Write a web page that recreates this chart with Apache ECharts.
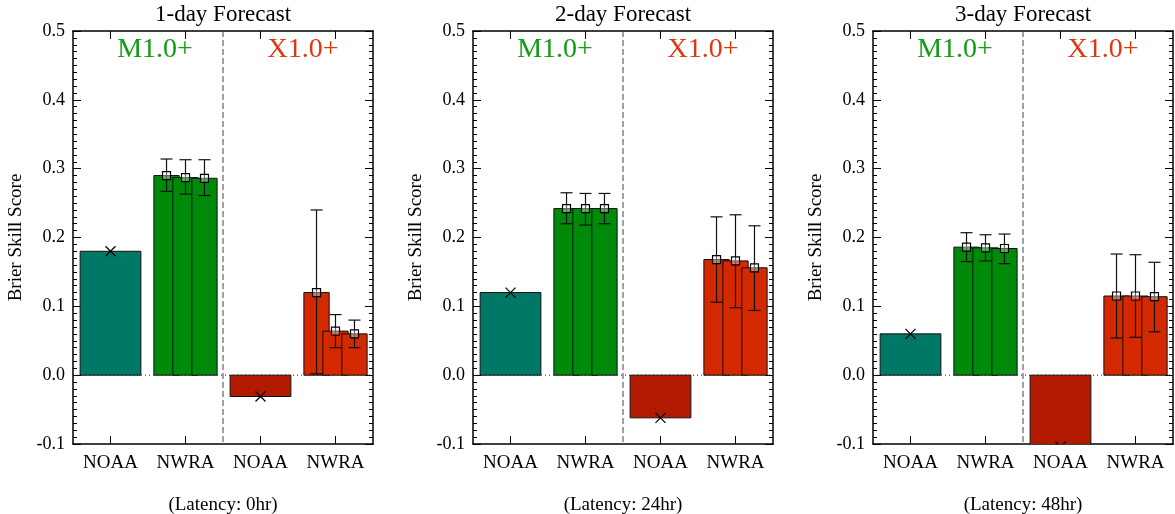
<!DOCTYPE html>
<html>
<head>
<meta charset="utf-8">
<script src="https://cdn.jsdelivr.net/npm/echarts@6/dist/echarts.min.js"></script>
<style>
  html, body { margin: 0; padding: 0; background: #fff; }
  #chart { width: 1175px; height: 514px; }
</style>
</head>
<body>
<div id="chart"></div>
<script>
// categories and labels
const categories = ['NOAA', 'NWRA', 'NOAA', 'NWRA'];
const panelTitles = ['1-day Forecast', '2-day Forecast', '3-day Forecast'];
const latencies = ['(Latency: 0hr)', '(Latency: 24hr)', '(Latency: 48hr)'];
const yTicks = { min: -0.1, max: 0.5, step: 0.1 };

// NOAA values per panel (M1.0+ and X1.0+)
const noaaM = [0.180, 0.120, 0.060];
const noaaX = [-0.031, -0.062, -0.104];

// NWRA values per panel, three runs each
const nwraM = [[0.290, 0.287, 0.286], [0.242, 0.242, 0.242], [0.186, 0.185, 0.184]];
const nwraMLow = [[0.267, 0.263, 0.261], [0.220, 0.218, 0.220], [0.165, 0.166, 0.162]];
const nwraMHigh = [[0.314, 0.313, 0.313], [0.265, 0.264, 0.264], [0.207, 0.204, 0.205]];

const nwraX = [[0.120, 0.064, 0.060], [0.168, 0.166, 0.156], [0.115, 0.115, 0.114]];
const nwraXLow = [[0.002, 0.040, 0.040], [0.106, 0.098, 0.094], [0.054, 0.055, 0.063]];
const nwraXHigh = [[0.240, 0.088, 0.080], [0.230, 0.233, 0.217], [0.176, 0.175, 0.164]];

const FONT = '"Liberation Serif", "Times New Roman", serif';
const barColors = ['#007868', '#008a0a', '#b21a00', '#d42800'];
const gridLeft = [73, 473, 873];
const gridW = 300, gridTop = 31, gridH = 413;

function renderNoaa(params, api) {
  const cat = api.value(0), val = api.value(1);
  const band = api.size([1, 0])[0];
  const w = band * 0.81;
  const p0 = api.coord([cat, 0]);
  const p1 = api.coord([cat, val]);
  const x = p0[0] - w / 2;
  const y = Math.min(p0[1], p1[1]);
  const h = Math.abs(p1[1] - p0[1]);
  const s = 5;
  return {
    type: 'group',
    children: [
      { type: 'rect', shape: { x: x, y: y, width: w, height: h },
        style: { fill: barColors[cat], stroke: '#111', lineWidth: 1 } },
      { type: 'line', shape: { x1: p1[0] - s, y1: p1[1] - s, x2: p1[0] + s, y2: p1[1] + s },
        style: { stroke: '#000', lineWidth: 1.2 } },
      { type: 'line', shape: { x1: p1[0] - s, y1: p1[1] + s, x2: p1[0] + s, y2: p1[1] - s },
        style: { stroke: '#000', lineWidth: 1.2 } }
    ]
  };
}

function renderNwra(params, api) {
  const cat = api.value(0), val = api.value(1), lo = api.value(2), hi = api.value(3), slot = api.value(4);
  const band = api.size([1, 0])[0];
  const w = band * 0.337;
  const base = api.coord([cat, 0]);
  const cx = base[0] + slot * band * 0.253;
  const top = api.coord([cat, val])[1];
  const yLo = api.coord([cat, lo])[1];
  const yHi = api.coord([cat, hi])[1];
  const cap = 6, sq = 4;
  return {
    type: 'group',
    children: [
      { type: 'rect', shape: { x: cx - w / 2, y: top, width: w, height: base[1] - top },
        style: { fill: barColors[cat], stroke: '#111', lineWidth: 1 } },
      { type: 'line', shape: { x1: cx, y1: yLo, x2: cx, y2: yHi }, style: { stroke: '#111', lineWidth: 1.2 } },
      { type: 'line', shape: { x1: cx - cap, y1: yLo, x2: cx + cap, y2: yLo }, style: { stroke: '#111', lineWidth: 1.2 } },
      { type: 'line', shape: { x1: cx - cap, y1: yHi, x2: cx + cap, y2: yHi }, style: { stroke: '#111', lineWidth: 1.2 } },
      { type: 'rect', shape: { x: cx - sq, y: top - sq, width: sq * 2, height: sq * 2 },
        style: { fill: 'rgba(255,255,255,0.35)', stroke: '#000', lineWidth: 1.2 } }
    ]
  };
}

// zero line (dotted) and the M/X divider (dashed)
function renderFrame(params, api) {
  const cs = params.coordSys;
  const y0 = api.coord([0, 0])[1];
  const xm = cs.x + cs.width / 2;
  return {
    type: 'group',
    children: [
      { type: 'line', shape: { x1: cs.x, y1: y0, x2: cs.x + cs.width, y2: y0 },
        style: { stroke: '#222', lineWidth: 1, lineDash: [1, 3] } },
      { type: 'line', shape: { x1: xm, y1: cs.y, x2: xm, y2: cs.y + cs.height },
        style: { stroke: '#444', lineWidth: 1, lineDash: [6, 3] } }
    ]
  };
}

const grids = [], xAxes = [], yAxes = [], series = [], graphics = [];

for (let i = 0; i < 3; i++) {
  grids.push({ left: gridLeft[i], top: gridTop, width: gridW, height: gridH,
    containLabel: false, outerBoundsMode: 'none' });

  const tickStyle = { show: true, inside: true, length: 8, alignWithLabel: true,
    lineStyle: { color: '#000', width: 1 } };
  xAxes.push({
    type: 'category', gridIndex: i, data: categories, position: 'bottom',
    axisLine: { onZero: false, lineStyle: { color: '#000', width: 1.5 } },
    axisTick: tickStyle,
    axisLabel: { color: '#000', fontFamily: FONT, fontSize: 19, margin: 10, interval: 0 },
    name: latencies[i], nameLocation: 'middle', nameGap: 52,
    nameTextStyle: { color: '#000', fontFamily: FONT, fontSize: 19 }
  });
  xAxes.push({
    type: 'category', gridIndex: i, data: categories, position: 'top',
    axisLine: { onZero: false, lineStyle: { color: '#000', width: 1.5 } },
    axisTick: tickStyle,
    axisLabel: { show: false },
    name: panelTitles[i], nameLocation: 'middle', nameGap: 5,
    nameTextStyle: { color: '#000', fontFamily: FONT, fontSize: 23 }
  });

  const yBase = {
    type: 'value', gridIndex: i, min: yTicks.min, max: yTicks.max, interval: yTicks.step,
    axisLine: { show: true, onZero: false, lineStyle: { color: '#000', width: 1.5 } },
    axisTick: { show: true, inside: true, length: 8, lineStyle: { color: '#000' } },
    minorTick: { show: true, splitNumber: 10, length: 4, lineStyle: { color: '#000' } },
    splitLine: { show: false }
  };
  yAxes.push(Object.assign({}, yBase, {
    position: 'left',
    axisLabel: { color: '#000', fontFamily: FONT, fontSize: 18, margin: 8,
      formatter: v => v.toFixed(1) },
    name: 'Brier Skill Score', nameLocation: 'middle', nameGap: 47, nameRotate: 90,
    nameTextStyle: { color: '#000', fontFamily: FONT, fontSize: 19 }
  }));
  yAxes.push(Object.assign({}, yBase, { position: 'right', axisLabel: { show: false } }));

  series.push({
    type: 'custom', xAxisIndex: 2 * i, yAxisIndex: 2 * i, z: 1, silent: true,
    renderItem: renderFrame, data: [[0, 0]]
  });
  series.push({
    type: 'custom', xAxisIndex: 2 * i, yAxisIndex: 2 * i, z: 2, clip: true, silent: true,
    renderItem: renderNoaa, data: [[0, noaaM[i]], [2, noaaX[i]]]
  });
  const nw = [];
  for (let j = 0; j < 3; j++) nw.push([1, nwraM[i][j], nwraMLow[i][j], nwraMHigh[i][j], j - 1]);
  for (let j = 0; j < 3; j++) nw.push([3, nwraX[i][j], nwraXLow[i][j], nwraXHigh[i][j], j - 1]);
  series.push({
    type: 'custom', xAxisIndex: 2 * i, yAxisIndex: 2 * i, z: 3, clip: true, silent: true,
    renderItem: renderNwra, data: nw
  });

  graphics.push({ type: 'text', x: gridLeft[i] + 82, y: 50,
    style: { text: 'M1.0+', fill: '#159a15', font: '28px ' + FONT, textAlign: 'center', verticalAlign: 'middle' } });
  graphics.push({ type: 'text', x: gridLeft[i] + 230, y: 50,
    style: { text: 'X1.0+', fill: '#e0360f', font: '28px ' + FONT, textAlign: 'center', verticalAlign: 'middle' } });
}

const chart = echarts.init(document.getElementById('chart'), null, { renderer: 'canvas' });
chart.setOption({
  animation: false,
  backgroundColor: '#fff',
  grid: grids,
  xAxis: xAxes,
  yAxis: yAxes,
  series: series,
  graphic: graphics
});
</script>
</body>
</html>
